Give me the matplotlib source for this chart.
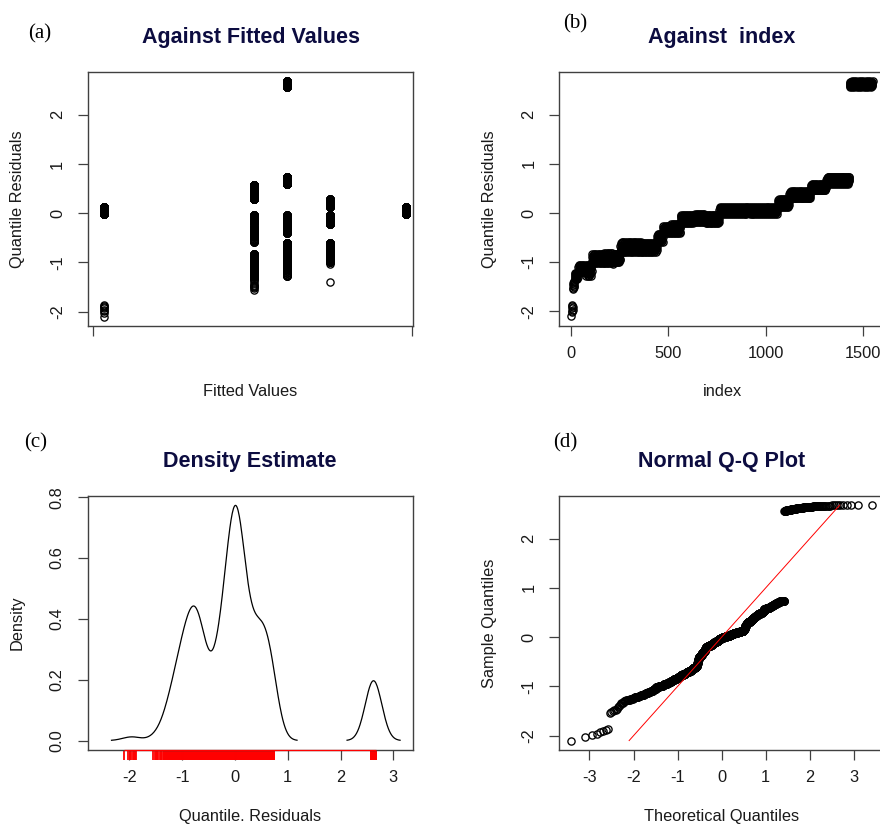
import numpy as np
import matplotlib
matplotlib.use('Agg')
import matplotlib.pyplot as plt
from statistics import NormalDist

plt.rcParams['font.family'] = 'Liberation Sans'
plt.rcParams['axes.unicode_minus'] = False

# fitted value levels (positions, arbitrary units)
fit_levels = [0.034, 0.497, 0.599, 0.731, 0.966]

# residual blocks in index order: size, fitted level, residual values seen in the block
blk_n = [8, 8, 1, 18, 40, 30, 60, 50, 1, 35, 110, 80, 30, 40, 50, 70, 60, 70,
         150, 150, 60, 110, 80, 120, 120]
blk_fit = [0, 1, 3, 1, 1, 2, 1, 2, 3, 3, 2, 3, 1, 1, 2, 1, 2, 3, 0, 4, 3, 1, 1, 2, 2]
blk_vals = [
    [-2.10, -1.89, -2.02, -1.93, -1.99, -1.87, -1.97, -1.91],
    [-1.55, -1.47, -1.52, -1.42, -1.50, -1.38, -1.48, -1.45],
    [-1.40],
    [-1.34, -1.24, -1.30, -1.21, -1.28, -1.22, -1.26],
    [-1.20, -1.10, -1.16, -1.05, -1.14, -1.08, -1.18, -1.12],
    [-1.22, -1.09, -1.28, -1.13, -1.06, -1.17, -1.25, -1.11],
    [-1.02, -0.89, -0.97, -0.83, -0.94, -0.86, -1.00, -0.91],
    [-0.99, -0.88, -1.01, -0.85, -0.95, -0.82, -0.92, -0.96],
    [-1.03],
    [-0.99, -0.87, -0.93, -0.84, -0.96, -0.90],
    [-0.80, -0.68, -0.75, -0.62, -0.77, -0.65, -0.72, -0.60, -0.70],
    [-0.79, -0.66, -0.74, -0.61, -0.71, -0.63, -0.76, -0.69],
    [-0.57, -0.46, -0.52, -0.43, -0.59, -0.49, -0.55, -0.44],
    [-0.41, -0.31, -0.37, -0.27, -0.39, -0.33, -0.29, -0.35],
    [-0.40, -0.28, -0.36, -0.22, -0.33, -0.25, -0.38, -0.30],
    [-0.20, -0.09, -0.16, -0.04, -0.13, -0.07, -0.18, -0.11],
    [-0.19, -0.08, -0.15, -0.05, -0.12, -0.03, -0.17, -0.10],
    [-0.21, -0.10, -0.16, -0.04, -0.13, -0.07, -0.19],
    [-0.02, 0.07, 0.01, 0.10, 0.04, 0.13, 0.00, 0.08, 0.03, 0.11],
    [0.00, 0.08, 0.02, 0.12, 0.05, 0.10, -0.02, 0.06, 0.03, 0.09],
    [0.12, 0.22, 0.17, 0.27, 0.14, 0.24, 0.19, 0.29],
    [0.30, 0.38, 0.33, 0.42, 0.31, 0.36, 0.40, 0.34, 0.44],
    [0.46, 0.54, 0.49, 0.57, 0.47, 0.52, 0.58, 0.50],
    [0.59, 0.67, 0.62, 0.71, 0.60, 0.69, 0.64, 0.73, 0.66, 0.74],
    [2.57, 2.63, 2.59, 2.66, 2.60, 2.64, 2.58, 2.67, 2.61, 2.65, 2.62, 2.68],
]

res = np.concatenate([np.resize(v, n) for v, n in zip(blk_vals, blk_n)])
fitted = np.repeat(np.array(fit_levels)[blk_fit], blk_n)
N = len(res)
index = np.arange(1, N + 1)


def rlim(v):
    lo, hi = np.nanmin(v), np.nanmax(v)
    d = 0.04 * (hi - lo)
    return lo - d, hi + d


TITLE_C = '#0c0c40'
TXT_C = '#1a1a1a'
mk = dict(marker='o', ls='none', mfc='none', mec='black', ms=5.2, mew=0.95)

fig = plt.figure(figsize=(8.8, 8.27), dpi=100)
W, H = 880, 827


def make_ax(l, r, t, b):
    ax = fig.add_axes([l / W, 1 - b / H, (r - l) / W, (b - t) / H])
    for s in ax.spines.values():
        s.set_color('#404040')
        s.set_linewidth(1.0)
    ax.tick_params(length=7.5, width=0.9, color='#404040', labelsize=11.8,
                   labelcolor=TXT_C)
    ax.tick_params(axis='y', labelrotation=90, pad=9)
    ax.tick_params(axis='x', pad=7)
    return ax


def labels(ax, title, xl, yl, xpos, ypos):
    ax.set_title(title, fontsize=15.5, fontweight='bold', color=TITLE_C, pad=21)
    ax.set_xlabel(xl, fontsize=11.8, color=TXT_C)
    ax.set_ylabel(yl, fontsize=11.8, color=TXT_C)
    ax.xaxis.set_label_coords(0.5, xpos)
    ax.yaxis.set_label_coords(ypos, 0.5)
    ax.xaxis.label.set_va('top')


# (a) against fitted values
ax1 = make_ax(88, 413, 72, 326)
ax1.plot(fitted, res, **mk)
ax1.set_xlim(-0.0154, 0.9877)
ax1.set_ylim(rlim(res))
ax1.set_xticks([0, 0.985])
ax1.set_xticklabels(['', ''])
ax1.set_yticks([-2, -1, 0, 1, 2])
labels(ax1, 'Against Fitted Values', 'Fitted Values', 'Quantile Residuals', -0.228, -0.194)

# (b) against index
ax2 = make_ax(559.3, 884.7, 71.7, 325.7)
ax2.plot(index, res, **mk)
ax2.set_xlim(rlim(index))
ax2.set_ylim(rlim(res))
ax2.set_xticks([0, 500, 1000, 1500])
ax2.set_yticks([-2, -1, 0, 1, 2])
labels(ax2, 'Against  index', 'index', 'Quantile Residuals', -0.228, -0.191)

# (c) density estimate
q75, q25 = np.percentile(res, [75, 25])
bw = 0.9 * min(res.std(ddof=1), (q75 - q25) / 1.34) * N ** -0.2
grid = np.linspace(res.min() - 3 * bw, res.max() + 3 * bw, 512)
dens = np.exp(-0.5 * ((grid[:, None] - res[None, :]) / bw) ** 2).sum(1) / (N * bw * np.sqrt(2 * np.pi))
dens_show = np.where(dens < 1e-3, np.nan, dens)

ax3 = make_ax(87.7, 412.7, 496, 750)
ax3.plot(grid, dens_show, color='black', lw=0.9)
ax3.set_xlim(rlim(grid))
ax3.set_ylim(rlim(dens))
ax3.set_xticks([-2, -1, 0, 1, 2, 3])
ax3.set_yticks([0, 0.2, 0.4, 0.6, 0.8])
ax3.set_yticklabels(['0.0', '0.2', '0.4', '0.6', '0.8'])
xt = ax3.get_xaxis_transform()
ax3.vlines(res, 0, -0.04, transform=xt, color='red', lw=1.3, clip_on=False)
ax3.hlines(0, res.min(), res.max(), transform=xt, color='red', lw=0.9,
           clip_on=False, zorder=3)
labels(ax3, 'Density Estimate', 'Quantile. Residuals', 'Density', -0.232, -0.194)

# (d) normal Q-Q plot
nd = NormalDist()
theo = np.array([nd.inv_cdf((i - 0.5) / N) for i in index])
samp = np.sort(res)
ax4 = make_ax(559.3, 884, 495.7, 750)
ax4.plot(theo, samp, **mk)
ax4.plot(samp, samp, color='red', lw=0.7)
ax4.set_xlim(rlim(theo))
ax4.set_ylim(rlim(samp))
ax4.set_xticks([-3, -2, -1, 0, 1, 2, 3])
ax4.set_yticks([-2, -1, 0, 1, 2])
labels(ax4, 'Normal Q-Q Plot', 'Theoretical Quantiles', 'Sample Quantiles', -0.232, -0.191)

for ax in (ax1, ax2, ax3, ax4):
    for lab in ax.get_yticklabels():
        lab.set_va('center')

# panel letters
for txt, x, y in [('(a)', 28, 33.5), ('(b)', 563, 23.5), ('(c)', 24, 443), ('(d)', 553, 443)]:
    fig.text(x / W, 1 - y / H, txt, family='Liberation Serif', fontsize=15,
             ha='left', va='center', color='black')

fig.savefig('out.png', dpi=100)
